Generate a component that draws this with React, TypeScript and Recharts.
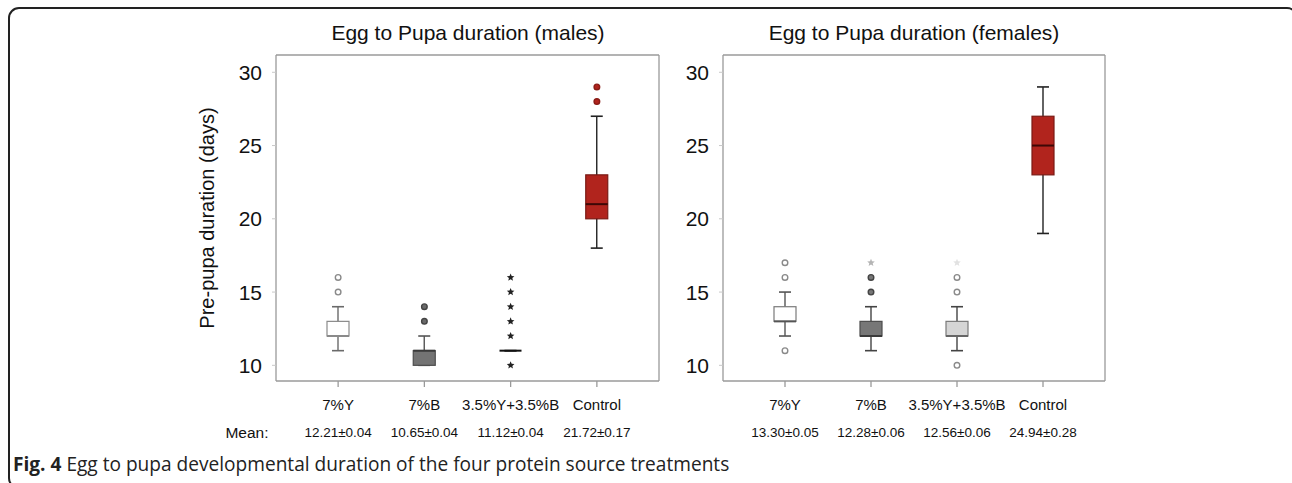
import React from 'react';
import { ComposedChart, Bar, Scatter, XAxis, YAxis } from 'recharts';

// ---------- data ----------
const categories = ['7%Y', '7%B', '3.5%Y+3.5%B', 'Control'];
const yTicks = [10, 15, 20, 25, 30];

// males
const maleWhiskerLow = [11, 10, 11, 18];
const maleQ1 = [12, 10, 11, 20];
const maleMedian = [12, 11, 11, 21];
const maleQ3 = [13, 11, 11, 23];
const maleWhiskerHigh = [14, 12, 11, 27];
const maleMeans = ['12.21±0.04', '10.65±0.04', '11.12±0.04', '21.72±0.17'];
const maleOutlierCat = [0, 0, 1, 1, 2, 2, 2, 2, 2, 2, 3, 3];
const maleOutlierValue = [15, 16, 13, 14, 10, 12, 13, 14, 15, 16, 28, 29];
const maleOutlierKind = ['o', 'o', 'o', 'o', 'x', 'x', 'x', 'x', 'x', 'x', 'o', 'o'];

// females
const femaleWhiskerLow = [12, 11, 11, 19];
const femaleQ1 = [13, 12, 12, 23];
const femaleMedian = [13, 12, 12, 25];
const femaleQ3 = [14, 13, 13, 27];
const femaleWhiskerHigh = [15, 14, 14, 29];
const femaleMeans = ['13.30±0.05', '12.28±0.06', '12.56±0.06', '24.94±0.28'];
const femaleOutlierCat = [0, 0, 0, 1, 1, 1, 2, 2, 2, 2];
const femaleOutlierValue = [11, 16, 17, 15, 16, 17, 10, 15, 16, 17];
const femaleOutlierKind = ['o', 'o', 'o', 'o', 'o', 'x', 'o', 'o', 'o', 'x'];

// ---------- styles ----------
const FRAME = '#9a9a9a';
const RED = '#b1241d';
const FONT = '"Liberation Sans", Arial, sans-serif';

const maleStyle = {
  boxFill: ['#ffffff', '#737373', '#ffffff', RED],
  boxStroke: ['#8a8a8a', '#4d4d4d', '#222222', '#7a1a14'],
  whisker: ['#6a6a6a', '#555555', '#222222', '#222222'],
  median: ['#8a8a8a', '#3a3a3a', '#111111', '#3d0806'],
  outFill: ['#ffffff', '#6a6a6a', '#222222', RED],
  outStroke: ['#8a8a8a', '#444444', '#222222', '#8a1c16'],
  starFill: ['#222', '#222', '#222', '#222'],
};
const femaleStyle = {
  boxFill: ['#ffffff', '#777777', '#d5d5d5', RED],
  boxStroke: ['#7a7a7a', '#4d4d4d', '#7a7a7a', '#7a1a14'],
  whisker: ['#555555', '#444444', '#444444', '#222222'],
  median: ['#555555', '#3a3a3a', '#666666', '#3d0806'],
  outFill: ['#ffffff', '#777777', '#ffffff', RED],
  outStroke: ['#8a8a8a', '#444444', '#8a8a8a', '#8a1c16'],
  starFill: ['#222', '#b5b5b5', '#e2e2e2', '#222'],
};

type Style = typeof maleStyle;

function buildRows(wl: number[], q1: number[], med: number[], q3: number[], wh: number[]) {
  return categories.map((cat, i) => ({ cat, pos: i, wl: wl[i], q1: q1[i], med: med[i], q3: q3[i], wh: wh[i] }));
}
function buildOutliers(cats: number[], vals: number[], kinds: string[]) {
  return cats.map((c, i) => ({ pos: c, value: vals[i], kind: kinds[i] }));
}

const maleRows = buildRows(maleWhiskerLow, maleQ1, maleMedian, maleQ3, maleWhiskerHigh);
const femaleRows = buildRows(femaleWhiskerLow, femaleQ1, femaleMedian, femaleQ3, femaleWhiskerHigh);
const maleOut = buildOutliers(maleOutlierCat, maleOutlierValue, maleOutlierKind);
const femaleOut = buildOutliers(femaleOutlierCat, femaleOutlierValue, femaleOutlierKind);

function starPath(cx: number, cy: number, r: number) {
  const pts: string[] = [];
  for (let k = 0; k < 10; k++) {
    const rr = k % 2 === 0 ? r : r * 0.45;
    const a = -Math.PI / 2 + (k * Math.PI) / 5;
    pts.push(`${cx + rr * Math.cos(a)},${cy + rr * Math.sin(a)}`);
  }
  return 'M' + pts.join('L') + 'Z';
}

const PAD = { left: 19, right: 19 };
const DOMAIN: [number, number] = [8.93, 31.18];

function BoxChart({ rows, outliers, means, style, width, marginLeft, marginRight }: {
  rows: any[]; outliers: any[]; means: string[]; style: Style; width: number; marginLeft: number; marginRight: number;
}) {
  const whiskerShape = (p: any) => {
    const { x, y, width: w, height: h, index } = p;
    const cx = x + w / 2;
    const c = style.whisker[index];
    return (
      <g>
        <line x1={cx} x2={cx} y1={y} y2={y + h} stroke={c} strokeWidth={1.4} />
        <line x1={cx - 6} x2={cx + 6} y1={y} y2={y} stroke={c} strokeWidth={1.6} />
        <line x1={cx - 6} x2={cx + 6} y1={y + h} y2={y + h} stroke={c} strokeWidth={1.6} />
      </g>
    );
  };
  const boxShape = (p: any) => {
    const { x, y, width: w, height: h, index } = p;
    if (!h) return <g />;
    return <rect x={x} y={y} width={w} height={h} fill={style.boxFill[index]} stroke={style.boxStroke[index]} strokeWidth={1.2} />;
  };
  const medianShape = (p: any) => {
    const { x, y, width: w, index } = p;
    return <line x1={x} x2={x + w} y1={y} y2={y} stroke={style.median[index]} strokeWidth={2} />;
  };
  const outShape = (p: any) => {
    const { cx, cy, payload } = p;
    const i = payload.pos;
    if (payload.kind === 'x') {
      return <path d={starPath(cx, cy, 4)} fill={style.starFill[i]} />;
    }
    return <circle cx={cx} cy={cy} r={2.8} fill={style.outFill[i]} stroke={style.outStroke[i]} strokeWidth={1.4} />;
  };
  const tick = (p: any) => {
    const { x, y, payload, index } = p;
    return (
      <g>
        <text x={x} y={y + 21} textAnchor="middle" fontSize={15} fill="#111" fontFamily={FONT}>{payload.value}</text>
        <text x={x} y={y + 48} textAnchor="middle" fontSize={13.5} fill="#111" fontFamily={FONT}>{means[index]}</text>
      </g>
    );
  };
  return (
    <ComposedChart width={width} height={450} data={rows}
      margin={{ top: 54, right: marginRight - 1, bottom: 0, left: marginLeft }}>
      <XAxis xAxisId="a" dataKey="cat" padding={PAD} interval={0} tickSize={6} tickMargin={2}
        axisLine={{ stroke: FRAME, strokeWidth: 1.3 }} tickLine={{ stroke: FRAME, strokeWidth: 1.3 }} tick={tick} height={69} />
      <XAxis xAxisId="top" orientation="top" dataKey="cat" padding={PAD} tick={false} tickLine={false}
        axisLine={{ stroke: FRAME, strokeWidth: 1.3 }} height={1} />
      <XAxis xAxisId="w" dataKey="cat" padding={PAD} hide height={0} />
      <XAxis xAxisId="m" dataKey="cat" padding={PAD} hide height={0} />
      <XAxis xAxisId="s" dataKey="pos" type="number" domain={[-0.5, 3.5]} allowDataOverflow padding={PAD} hide height={0} />
      <YAxis domain={DOMAIN} ticks={yTicks} allowDataOverflow width={60} tickSize={4} tickMargin={10}
        axisLine={{ stroke: FRAME, strokeWidth: 1.3 }} tickLine={{ stroke: '#c8c8c8' }}
        tick={{ fontSize: 21, fill: '#111', fontFamily: FONT }} />
      <YAxis yAxisId="r" orientation="right" domain={DOMAIN} allowDataOverflow width={1} tick={false} tickLine={false}
        axisLine={{ stroke: FRAME, strokeWidth: 1.3 }} />
      <Bar xAxisId="w" dataKey={(d: any) => [d.wl, d.wh]} barSize={22} shape={whiskerShape} isAnimationActive={false} />
      <Bar xAxisId="a" dataKey={(d: any) => [d.q1, d.q3]} barSize={22} shape={boxShape} isAnimationActive={false} />
      <Bar xAxisId="m" dataKey={(d: any) => [d.med, d.med]} barSize={22} shape={medianShape} isAnimationActive={false} />
      <Scatter xAxisId="s" data={outliers} dataKey="value" shape={outShape} isAnimationActive={false} />
    </ComposedChart>
  );
}

export default function App() {
  return (
    <div style={{ position: 'absolute', left: 0, top: 0, width: 1292, height: 483, overflow: 'hidden', background: '#fff', fontFamily: FONT }}>
      <div style={{ position: 'absolute', left: 8, top: 7, width: 1290, height: 482, border: '2px solid #222', borderRadius: 11, boxSizing: 'border-box' }} />
      <div style={{ position: 'absolute', left: 170, top: 0 }}>
        <BoxChart rows={maleRows} outliers={maleOut} means={maleMeans} style={maleStyle} width={495} marginLeft={46} marginRight={6} />
      </div>
      <div style={{ position: 'absolute', left: 665, top: 0 }}>
        <BoxChart rows={femaleRows} outliers={femaleOut} means={femaleMeans} style={femaleStyle} width={455} marginLeft={-2} marginRight={15} />
      </div>
      <div style={{ position: 'absolute', left: 268, top: 20, width: 400, textAlign: 'center', fontSize: 21, lineHeight: '26px', color: '#111' }}>
        Egg to Pupa duration (males)
      </div>
      <div style={{ position: 'absolute', left: 714, top: 20, width: 400, textAlign: 'center', fontSize: 21, lineHeight: '26px', color: '#111' }}>
        Egg to Pupa duration (females)
      </div>
      <div style={{ position: 'absolute', left: 207 - 150, top: 218 - 13, width: 300, textAlign: 'center', fontSize: 20, lineHeight: '26px', color: '#111', transform: 'rotate(-90deg)' }}>
        Pre-pupa duration (days)
      </div>
      <div style={{ position: 'absolute', left: 212, top: 423, width: 70, textAlign: 'center', fontSize: 15.5, lineHeight: '20px', color: '#111' }}>
        Mean:
      </div>
      <div style={{ position: 'absolute', left: 13, top: 452, fontSize: 19.1, lineHeight: '24px', color: '#222', fontFamily: '"Open Sans", "Noto Sans", sans-serif', whiteSpace: 'nowrap' }}>
        <b>Fig. 4</b> Egg to pupa developmental duration of the four protein source treatments
      </div>
    </div>
  );
}
